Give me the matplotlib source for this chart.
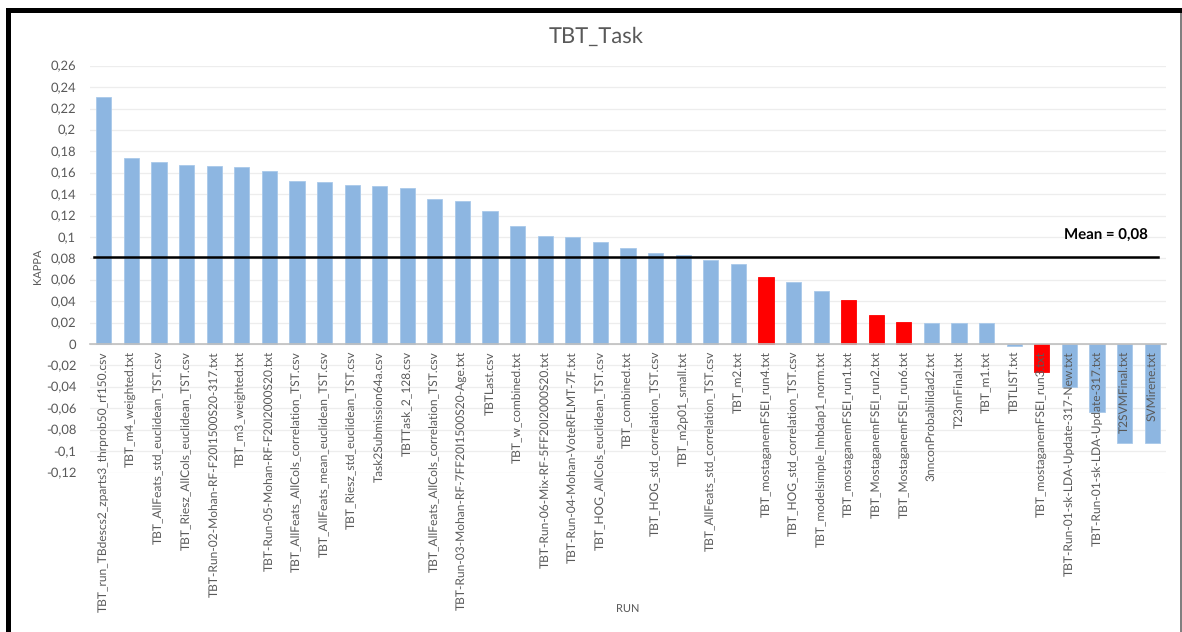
import matplotlib
matplotlib.use("Agg")
import matplotlib.pyplot as plt
from matplotlib.patches import Rectangle
from matplotlib.ticker import FuncFormatter, MultipleLocator

runs = [
    "TBT_run_TBdescs2_zparts3_thrprob50_rf150.csv",
    "TBT_m4_weighted.txt",
    "TBT_AllFeats_std_euclidean_TST.csv",
    "TBT_Riesz_AllCols_euclidean_TST.csv",
    "TBT-Run-02-Mohan-RF-F20I1500S20-317.txt",
    "TBT_m3_weighted.txt",
    "TBT-Run-05-Mohan-RF-F20I2000S20.txt",
    "TBT_AllFeats_AllCols_correlation_TST.csv",
    "TBT_AllFeats_mean_euclidean_TST.csv",
    "TBT_Riesz_std_euclidean_TST.csv",
    "Task2Submission64a.csv",
    "TBTTask_2_128.csv",
    "TBT_AllFeats_AllCols_correlation_TST.csv",
    "TBT-Run-03-Mohan-RF-7FF20I1500S20-Age.txt",
    "TBTLast.csv",
    "TBT_w_combined.txt",
    "TBT-Run-06-Mix-RF-5FF20I2000S20.txt",
    "TBT-Run-04-Mohan-VoteRFLMT-7F.txt",
    "TBT_HOG_AllCols_euclidean_TST.csv",
    "TBT_combined.txt",
    "TBT_HOG_std_correlation_TST.csv",
    "TBT_m2p01_small.txt",
    "TBT_AllFeats_std_correlation_TST.csv",
    "TBT_m2.txt",
    "TBT_mostaganemFSEI_run4.txt",
    "TBT_HOG_std_correlation_TST.csv",
    "TBT_modelsimple_lmbdap1_norm.txt",
    "TBT_mostaganemFSEI_run1.txt",
    "TBT_MostaganemFSEI_run2.txt",
    "TBT_MostaganemFSEI_run6.txt",
    "3nnconProbabilidad2.txt",
    "T23nnFinal.txt",
    "TBT_m1.txt",
    "TBTLIST.txt",
    "TBT_mostaganemFSEI_run3.txt",
    "TBT-Run-01-sk-LDA-Update-317-New.txt",
    "TBT-Run-01-sk-LDA-Update-317.txt",
    "T2SVMFinal.txt",
    "SVMirene.txt",
]

kappa = [
    0.231, 0.1735, 0.1703, 0.167, 0.1663, 0.1654, 0.162, 0.1526, 0.1513, 0.1488,
    0.1473, 0.1454, 0.1352, 0.1333, 0.1246, 0.1105, 0.1006, 0.0997, 0.0950, 0.0894,
    0.0850, 0.0835, 0.0785, 0.0747, 0.0626, 0.0582, 0.0498, 0.0408, 0.0271, 0.0203,
    0.0196, 0.0196, 0.0196, -0.0022, -0.0262, -0.0399, -0.0635, -0.0922, -0.0922,
]

highlighted = [
    "TBT_mostaganemFSEI_run4.txt",
    "TBT_mostaganemFSEI_run1.txt",
    "TBT_MostaganemFSEI_run2.txt",
    "TBT_MostaganemFSEI_run6.txt",
    "TBT_mostaganemFSEI_run3.txt",
]

mean_kappa = 0.081
mean_label = "Mean = 0,08"
title = "TBT_Task"

BLUE = "#8DB6E1"
RED = "#FF0000"
GRAY_TXT = "#595959"

plt.rcParams["font.family"] = ["Lato", "DejaVu Sans"]
plt.rcParams["text.hinting"] = "no_hinting"
plt.rcParams["text.hinting_factor"] = 1

W, H = 1182, 632
fig = plt.figure(figsize=(W / 100, H / 100), dpi=100)
fig.patch.set_facecolor("white")

left, right, top, bottom = 90, 1166, 65.7, 472.5
ax = fig.add_axes([left / W, 1 - bottom / H, (right - left) / W, (bottom - top) / H])

x = list(range(len(runs)))
colors = [RED if r in highlighted else BLUE for r in runs]
ax.bar(x, kappa, width=0.55, color=colors,
       edgecolor=[c if c == RED else "#A9C9EA" for c in colors],
       linewidth=0.6, zorder=2)

ax.set_xlim(-0.5, len(runs) - 0.5)
ax.set_ylim(-0.12, 0.26)
ax.yaxis.set_major_locator(MultipleLocator(0.02))


def fmt(v, pos):
    s = f"{v:.2f}".rstrip("0").rstrip(".")
    if s in ("-0", "0", ""):
        return "0"
    return s.replace(".", ",")


ax.yaxis.set_major_formatter(FuncFormatter(fmt))
ax.grid(axis="y", color="#EDEDED", linewidth=0.9)
ax.set_axisbelow(True)
ax.xaxis.set_zorder(5)

for s in ["top", "right", "left"]:
    ax.spines[s].set_visible(False)
ax.spines["bottom"].set_position(("data", 0))
ax.spines["bottom"].set_color("#BFBFBF")
ax.spines["bottom"].set_linewidth(1.2)
ax.spines["bottom"].set_zorder(3)

ax.set_xticks(x)
ax.set_xticklabels(runs, rotation=90, fontsize=8.5, color=GRAY_TXT, va="top", ha="center")
ax.tick_params(axis="x", length=0, pad=5)
ax.tick_params(axis="y", length=0, pad=10, labelsize=9.5, labelcolor=GRAY_TXT)

ax.axhline(mean_kappa, xmin=(94 - left) / (right - left), xmax=(1158 - left) / (right - left),
           color="black", linewidth=1.8, zorder=4)
fig.text(1106 / W, 1 - 236 / H, mean_label, fontsize=10.8, fontweight="bold", color="black",
         ha="center", va="center")

fig.text(596 / W, 1 - 37 / H, title, fontsize=15.5, color=GRAY_TXT, ha="center", va="center")
fig.text(628 / W, 1 - 609 / H, "RUN", fontsize=8, color=GRAY_TXT, ha="center", va="center")
fig.text(38 / W, 1 - 266 / H, "KAPPA", fontsize=8, color=GRAY_TXT, ha="center", va="center",
         rotation=90)

# frame borders
fig.add_artist(Rectangle((6 / W, 0), 5 / W, 1 - 8 / H, transform=fig.transFigure,
                         facecolor="black", edgecolor="none"))
fig.add_artist(Rectangle((6 / W, 1 - 13 / H), 1 - 6 / W, 5 / H, transform=fig.transFigure,
                         facecolor="black", edgecolor="none"))
fig.add_artist(Rectangle((1180 / W, 0), 1.5 / W, 1 - 13 / H, transform=fig.transFigure,
                         facecolor="#808080", edgecolor="none"))

fig.savefig("out.png", dpi=100, facecolor="white")
